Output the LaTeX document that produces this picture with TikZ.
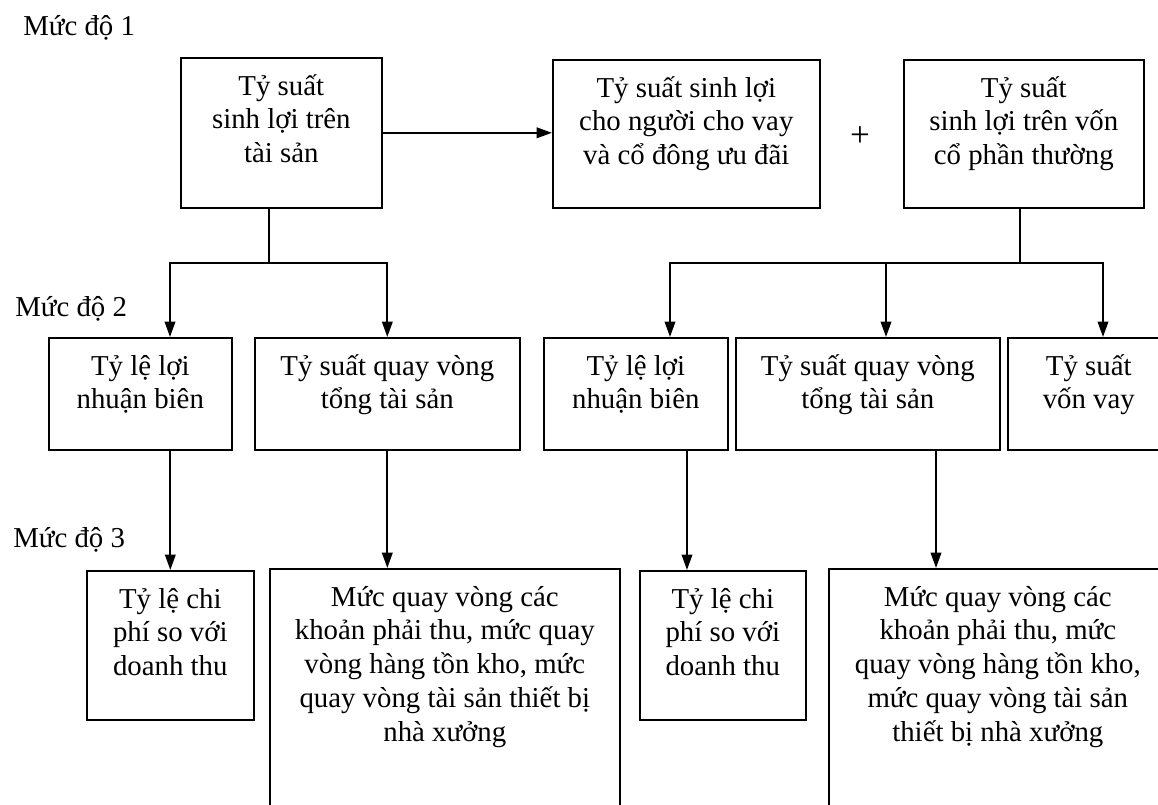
\documentclass[tikz,border=0pt]{standalone}
\usepackage{fontspec}
\setmainfont{Liberation Serif}
\usetikzlibrary{arrows.meta,calc}

\newdimen\pxu \pxu=0.025cm
\newcommand{\boxtxt}[3]{\parbox[t][#2\pxu][t]{#1\pxu}{\centering\rule{0pt}{26.5pt}#3}}

\tikzset{
  box/.style={draw, line width=1.15pt, inner sep=0pt, anchor=north west},
  arr/.style={line width=1.5pt, -{Triangle[length=11pt,width=7.5pt]}},
  stem/.style={line width=1.1pt},
  lvl/.style={anchor=base west, inner sep=0pt}
}

\begin{document}
\begin{tikzpicture}[x=0.025cm, y=-0.025cm, font=\fontsize{20.5}{24}\selectfont]
    \useasboundingbox (0,0) rectangle (1158,804);

    % levels
    \node[lvl] (lv1) at (23,35) {Mức độ 1};
    \node[lvl] (lv2) at (15,316) {Mức độ 2};
    \node[lvl] (lv3) at (13,547) {Mức độ 3};

    % level 1
    \node[box] (roa) at (180,57) {\boxtxt{201}{150}{Tỷ suất\\sinh lợi trên\\tài sản}};
    \node[box] (lend) at (552,59) {\boxtxt{267}{148}{Tỷ suất sinh lợi\\cho người cho vay\\và cổ đông ưu đãi}};
    \node[box] (equity) at (903,59) {\boxtxt{240}{148}{Tỷ suất\\sinh lợi trên vốn\\cổ phần thường}};
    \node[font=\fontsize{25}{28}\selectfont] (plus) at (860,137) {+};

    % level 2
    \node[box] (margin1) at (48,337) {\boxtxt{183}{112}{Tỷ lệ lợi\\nhuận biên}};
    \node[box] (turn1) at (254,337) {\boxtxt{265}{112}{Tỷ suất quay vòng\\tổng tài sản}};
    \node[box] (margin2) at (543,337) {\boxtxt{184}{112}{Tỷ lệ lợi\\nhuận biên}};
    \node[box] (turn2) at (735,337) {\boxtxt{264}{112}{Tỷ suất quay vòng\\tổng tài sản}};
    \node[box] (debt) at (1007,337) {\boxtxt{162}{112}{Tỷ suất\\vốn vay}};

    % level 3
    \node[box] (cost1) at (86,570) {\boxtxt{167}{149}{Tỷ lệ chi\\phí so với\\doanh thu}};
    \node[box] (act1) at (269,568) {\boxtxt{350}{260}{Mức quay vòng các\\khoản phải thu, mức quay\\vòng hàng tồn kho, mức\\quay vòng tài sản thiết bị\\nhà xưởng}};
    \node[box] (cost2) at (639,570) {\boxtxt{166}{149}{Tỷ lệ chi\\phí so với\\doanh thu}};
    \node[box] (act2) at (828,568) {\boxtxt{338}{260}{Mức quay vòng các\\khoản phải thu, mức\\quay vòng hàng tồn kho,\\mức quay vòng tài sản\\thiết bị nhà xưởng}};

    % connectors
    \draw[arr] (roa.east) -- (roa.east -| lend.west);

    \coordinate (busL) at (269,263);
    \draw[stem] (roa.south -| busL) -- (busL);
    \draw[arr] (busL) -| ($(margin1.north west)+(122,0)$);
    \draw[arr] (busL) -| (turn1.north);

    \coordinate (busR) at (1020,263);
    \draw[stem] (equity.south -| busR) -- (busR);
    \draw[arr] (busR) -| ($(margin2.north west)+(127,0)$);
    \draw[arr] (busR) -| ($(turn2.north west)+(151,0)$);
    \draw[arr] (busR) -| ($(debt.north west)+(96,0)$);

    \coordinate (downF) at ($(margin2.south west)+(144,0)$);
    \coordinate (downG) at ($(turn2.south west)+(201,0)$);
    \draw[arr] (margin1.south -| cost1.north) -- (cost1.north);
    \draw[arr] (turn1.south) -- (turn1.south |- act1.north);
    \draw[arr] (downF) -- (downF |- cost2.north);
    \draw[arr] (downG) -- (downG |- act2.north);
\end{tikzpicture}
\end{document}
